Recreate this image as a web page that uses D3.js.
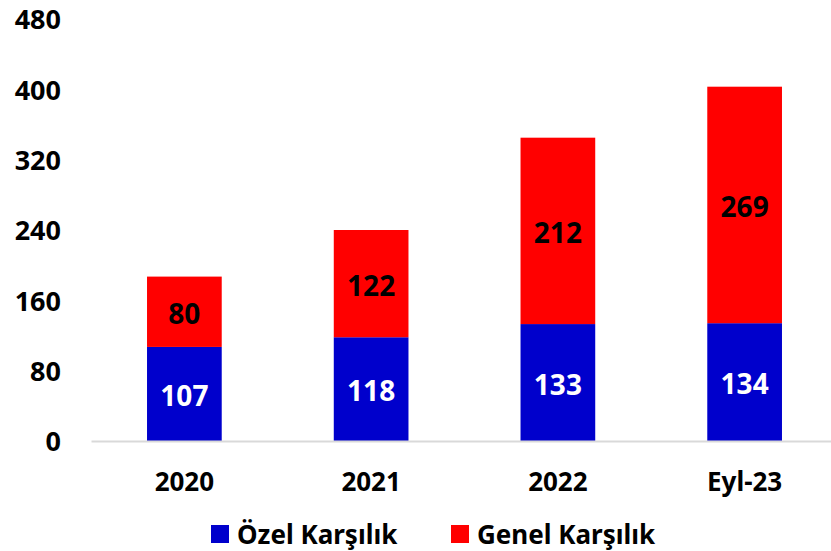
<!DOCTYPE html>
<html>
<head>
<meta charset="utf-8">
<script src="https://cdn.jsdelivr.net/npm/d3@7"></script>
<style>
  body { margin: 0; background: #fff; }
  text { font-family: "Noto Sans", "Open Sans", sans-serif; font-weight: bold; }
</style>
</head>
<body>
<div id="chart"></div>
<script>
// data
var categories = ["2020", "2021", "2022", "Eyl-23"];
var ozel = [107, 118, 133, 134];
var genel = [80, 122, 212, 269];
var yTicks = [0, 80, 160, 240, 320, 400, 480];
var seriesNames = ["Özel Karşılık", "Genel Karşılık"];
var seriesColors = ["#0000CC", "#FF0000"];

var svgWidth = 831;
var svgHeight = 551;

var margin = { top: 19, right: -7, bottom: 110, left: 91 };
var width = svgWidth - margin.left - margin.right;
var height = svgHeight - margin.top - margin.bottom;

var svg = d3.select("#chart")
  .append("svg")
  .attr("width", svgWidth)
  .attr("height", svgHeight);

var chartGroup = svg.append("g")
  .attr("transform", `translate(${margin.left}, ${margin.top})`);

var rows = categories.map(function(c, i) {
  return { cat: c, ozel: ozel[i], genel: genel[i] };
});

var stack = d3.stack().keys(["ozel", "genel"]);
var stacked = stack(rows);

var xScale = d3.scaleBand()
  .domain(categories)
  .range([0, width])
  .paddingInner(0.6)
  .paddingOuter(0.3);

var yScale = d3.scaleLinear()
  .domain([0, 480])
  .range([height, 0]);

// y tick labels (no axis line)
var leftAxis = d3.axisLeft(yScale).tickValues(yTicks).tickSize(0).tickPadding(30);
var yAxisG = chartGroup.append("g").call(leftAxis);
yAxisG.select(".domain").remove();
yAxisG.selectAll("text")
  .attr("font-size", 27)
  .attr("dy", "0.36em")
  .attr("font-family", "'Noto Sans', sans-serif")
  .attr("font-weight", "bold")
  .attr("fill", "#000");

// bars
chartGroup.selectAll("g.series")
  .data(stacked)
  .enter()
  .append("g")
  .attr("class", "series")
  .attr("fill", (d, i) => seriesColors[i])
  .selectAll("rect")
  .data(d => d)
  .enter()
  .append("rect")
  .attr("x", d => xScale(d.data.cat))
  .attr("y", d => yScale(d[1]))
  .attr("width", xScale.bandwidth())
  .attr("height", d => yScale(d[0]) - yScale(d[1]));

// x axis line + category labels
var bottomAxis = d3.axisBottom(xScale).tickSize(0).tickPadding(32);
var xAxisG = chartGroup.append("g")
  .attr("transform", `translate(0, ${height})`)
  .call(bottomAxis);
xAxisG.select(".domain").attr("stroke", "#d9d9d9").attr("stroke-width", 2);
xAxisG.selectAll("text")
  .attr("font-size", 26)
  .attr("font-family", "'Noto Sans', sans-serif")
  .attr("font-weight", "bold")
  .attr("fill", "#000");

// value labels
stacked.forEach(function(layer, li) {
  chartGroup.selectAll(null)
    .data(layer)
    .enter()
    .append("text")
    .attr("x", d => xScale(d.data.cat) + xScale.bandwidth() / 2)
    .attr("y", d => yScale((d[0] + d[1]) / 2) + 1)
    .attr("text-anchor", "middle")
    .attr("dominant-baseline", "central")
    .attr("font-size", 28)
    .attr("fill", li === 0 ? "#fff" : "#000")
    .text(d => d[1] - d[0]);
});

// legend
var legendItems = [
  { name: seriesNames[0], color: seriesColors[0], x: 211 },
  { name: seriesNames[1], color: seriesColors[1], x: 451 }
];
var legend = svg.selectAll("g.legend")
  .data(legendItems)
  .enter()
  .append("g")
  .attr("class", "legend")
  .attr("transform", d => `translate(${d.x}, 525)`);

legend.append("rect")
  .attr("width", 18)
  .attr("height", 18)
  .attr("fill", d => d.color);

legend.append("text")
  .attr("x", 26)
  .attr("y", 9)
  .attr("dominant-baseline", "central")
  .attr("font-size", 26)
  .text(d => d.name);
</script>
</body>
</html>
